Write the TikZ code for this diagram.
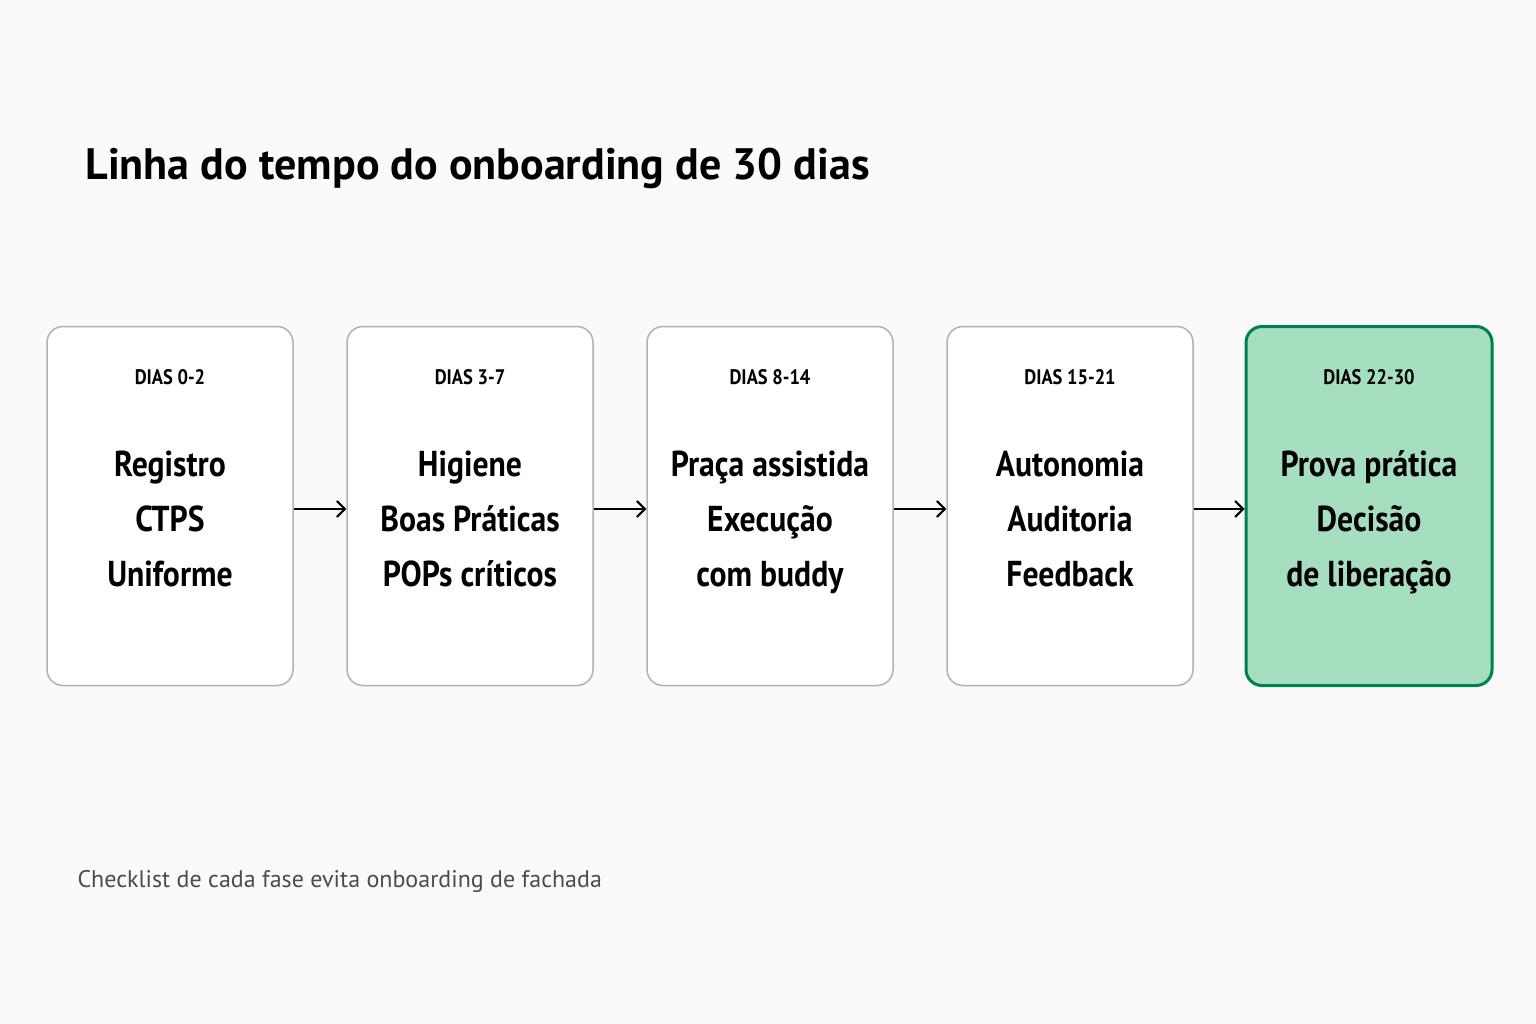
\documentclass[tikz,border=0pt]{standalone}
\usepackage{fontspec}
\setmainfont{PT Sans}
\newfontfamily\narrowf[FakeStretch=0.88]{PT Sans}
\begin{document}
\begin{tikzpicture}[x=1pt,y=-1pt,
 box/.style={draw=black!30,line width=1.5pt,fill=white,rounded corners=16pt,minimum width=246pt,minimum height=359pt,inner sep=0pt},
 hl/.style={box,draw=teal!75!green!80!black,fill=cyan!25!green!35!white,line width=3pt},
 dias/.style={font=\fontsize{21}{21}\selectfont\narrowf\bfseries,anchor=base},
 body/.style={font=\fontsize{36}{55}\selectfont\narrowf\bfseries,align=center,anchor=north},
 arr/.style={->,line width=2pt,>={Straight Barb[length=8pt,width=16pt]}}]
\usetikzlibrary{arrows.meta}
\fill[black!2] (0,0) rectangle (1536,1024);
\node[anchor=base west,font=\fontsize{44}{44}\selectfont\bfseries] (title) at (82,180) {Linha do tempo do onboarding de 30 dias};
\node[anchor=base west,font=\fontsize{24}{24}\selectfont,text=black!70] (foot) at (74,887) {Checklist de cada fase evita onboarding de fachada};
\foreach \i/\x/\d/\t/\s in {
 1/170/DIAS 0-2/{Registro\\CTPS\\Uniforme}/box,
 2/470/DIAS 3-7/{Higiene\\Boas Práticas\\POPs críticos}/box,
 3/770/DIAS 8-14/{Praça assistida\\Execução\\com buddy}/box,
 4/1070/DIAS 15-21/{Autonomia\\Auditoria\\Feedback}/box,
 5/1369/DIAS 22-30/{Prova prática\\Decisão\\de liberação}/hl}{
 \node[\s] (b\i) at (\x,506) {};
 \node[dias] (d\i) at (\x,384) {\d};
 \node[body] (t\i) at (\x,447) {\t};
}
\foreach \a/\b in {1/2,2/3,3/4,4/5}{\draw[arr] ([yshift=-3pt]b\a.east) -- ([yshift=-3pt]b\b.west);}
\end{tikzpicture}
\end{document}
